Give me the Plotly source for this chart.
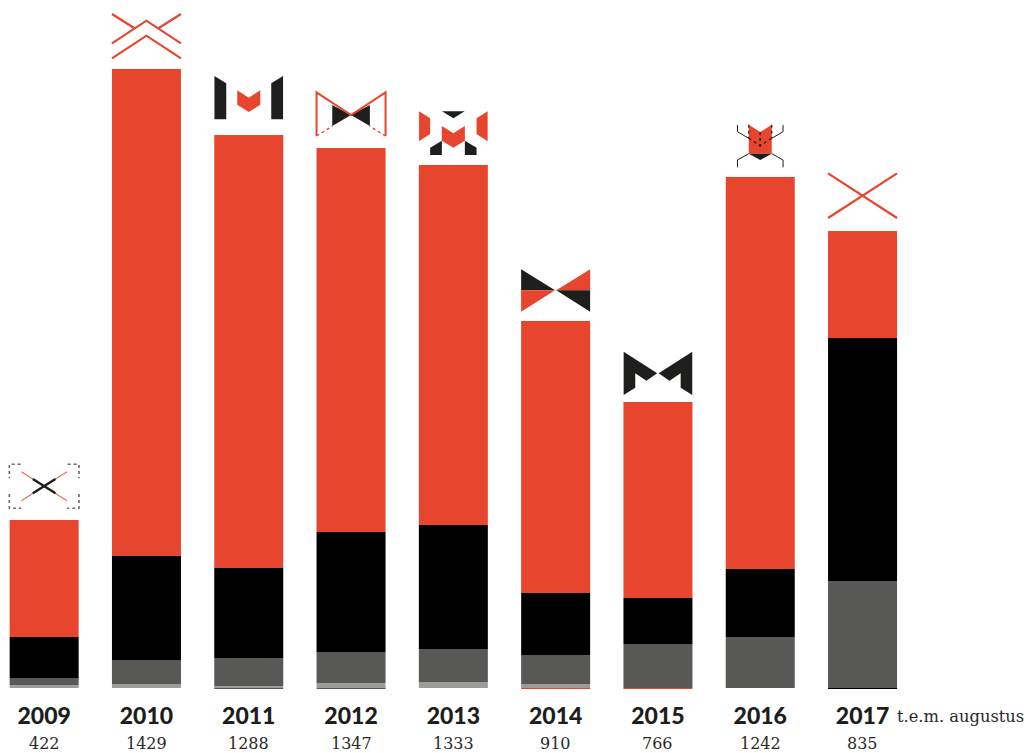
import plotly.graph_objects as go

years = ["2009", "2010", "2011", "2012", "2013", "2014", "2015", "2016", "2017"]
totals = ["422", "1429", "1288", "1347", "1333", "910", "766", "1242", "835"]
# stacked segment heights, bottom to top
# (the hairlines under some bars hang just below the baseline)
thin_dark = [0, 0, -0.8, -0.8, 0, 0, 0, 0, 0]
thin_red = [0, 0, 0, 0, 0, -1, -1, 0, 0]
thin_black = [0, 0, 0, 0, 0, 0, 0, 0, -1]
light_grey = [3, 4, 2, 5, 6, 4, 0, 0, 0]
dark_grey = [7, 24, 28, 31, 33, 29, 44, 51, 107]
black = [41, 104, 90, 120, 124, 62, 46, 68, 243]
red = [117, 487, 433, 384, 360, 272, 196, 392, 107]

RED, BLACK, DG, LG, INK = "#E7452E", "#000000", "#585856", "#9C9C9B", "#1E1E1C"
PITCH = 102.3
BAR_W = 69
X0 = 44.15
BASE = 64

fig = go.Figure()
xs = list(range(len(years)))
for name, vals, col in [("thin_dark", thin_dark, DG), ("thin_red", thin_red, RED),
                        ("thin_black", thin_black, BLACK), ("light", light_grey, LG),
                        ("dark", dark_grey, DG), ("black", black, BLACK), ("red", red, RED)]:
    fig.add_trace(go.Bar(x=xs, y=vals, name=name, width=BAR_W / PITCH,
                         marker=dict(color=col, line=dict(width=0)), hoverinfo="skip"))

tops = [sum(v) for v in zip(light_grey, dark_grey, black, red)]
shapes = []


def path(i, pts, fill=None, line=None, width=0, dash=None, close=True):
    d = ""
    for k, (dx, h) in enumerate(pts):
        d += ("M" if k == 0 else "L") + f"{i + dx / PITCH:.5f},{tops[i] + h:.3f} "
    if close:
        d += "Z"
    s = dict(type="path", path=d, xref="x", yref="y", layer="above",
             line=dict(width=width, color=line or "rgba(0,0,0,0)"))
    if dash:
        s["line"]["dash"] = dash
    s["fillcolor"] = fill if fill else "rgba(0,0,0,0)"
    shapes.append(s)


def stroke(i, pts, col, width, dash=None):
    path(i, pts, None, col, width, dash, close=False)


def mirror(pts):
    return [(-dx, h) for dx, h in pts]


# 2009
for sgn in (-1, 1):
    stroke(0, [(sgn * 23.5, 55.7), (sgn * 34.8, 55.7), (sgn * 34.8, 41.7)], "#6A6A68", 1.6, "dot")
    stroke(0, [(sgn * 34.8, 26), (sgn * 34.8, 11.7), (sgn * 23, 11.7)], "#6A6A68", 1.6, "dot")
stroke(0, [(-22.8, 48.3), (22.8, 19.3)], "#EE6A58", 1.2)
stroke(0, [(22.8, 48.3), (-22.8, 19.3)], "#EE6A58", 1.2)
stroke(0, [(-11.3, 41), (11.3, 26.7)], INK, 2.4)
stroke(0, [(11.3, 41), (-11.3, 26.7)], INK, 2.4)
# 2010
stroke(1, [(-34.5, 25.7), (0, 48.3), (34.5, 25.7)], RED, 2.2)
stroke(1, [(-34.5, 10.7), (0, 33.3), (34.5, 10.7)], RED, 2.2)
stroke(1, [(-34.5, 55), (-12, 40.7)], RED, 2.2)
stroke(1, [(34.5, 55), (12, 40.7)], RED, 2.2)
# 2011
left = [(-34.3, 59), (-22.5, 51.7), (-22.5, 15.7), (-34.3, 15.7)]
path(2, left, INK)
path(2, mirror(left), INK)
path(2, [(-11.5, 44.7), (0, 37.3), (11.5, 44.7), (11.5, 30.3), (0, 23), (-11.5, 30.3)], RED)
# 2012
left = [(-18.8, 43), (0, 33), (-18.8, 22)]
path(3, left, INK)
path(3, mirror(left), INK)
stroke(3, [(-34.5, 12), (-34.5, 55.7), (0, 33), (34.5, 55.7), (34.5, 12)], RED, 2)
stroke(3, [(-34.5, 12), (-18.5, 22)], RED, 1.4, "dot")
stroke(3, [(34.5, 12), (18.5, 22)], RED, 1.4, "dot")
# 2013
left = [(-34.3, 53.7), (-23.2, 46.7), (-23.2, 31), (-34.3, 23.7)]
path(4, left, RED)
path(4, mirror(left), RED)
path(4, [(-11.4, 53.7), (11.4, 53.7), (0, 46.7)], INK)
path(4, [(-11.5, 39), (0, 31.7), (11.5, 39), (11.5, 24.3), (0, 17.3), (-11.5, 24.3)], RED)
left = [(-23.2, 17.3), (-11.5, 24.3), (-11.5, 10), (-23.2, 10)]
path(4, left, INK)
path(4, mirror(left), INK)
# 2014
path(5, [(-34.5, 51.7), (-0.6, 30.7), (-34.5, 30.7)], INK)
path(5, [(-34.5, 30.7), (-0.6, 30.7), (-34.5, 9.3)], RED)
path(5, [(34.5, 51.7), (0.6, 30.7), (34.5, 30.7)], RED)
path(5, [(34.5, 30.7), (0.6, 30.7), (34.5, 9.3)], INK)
# 2015
left = [(-34.3, 50.3), (-0.7, 28.7), (-11.5, 21.3), (-22.7, 28.7), (-22.7, 14.3), (-34.3, 7)]
path(6, left, INK)
path(6, mirror(left), INK)
# 2016
path(7, [(-11.5, 52.3), (0, 45), (11.5, 52.3), (11.5, 23.3), (-11.5, 23.3)], RED)
path(7, [(-11.5, 23.3), (11.5, 23.3), (0, 17)], INK)
for sgn in (-1, 1):
    stroke(7, [(sgn * 11.5, 38.7), (sgn * 22.8, 45.3), (sgn * 22.8, 52)], INK, 1)
    stroke(7, [(sgn * 11.5, 23.3), (sgn * 22.8, 17), (sgn * 22.8, 9.7)], INK, 1)
    stroke(7, [(sgn * 11.5, 52.3), (sgn * 11.5, 38.7)], INK, 1.2, "dot")
stroke(7, [(-11.5, 38.7), (0, 31.3), (11.5, 38.7)], INK, 1.2, "dot")
stroke(7, [(0, 45), (0, 30.3)], INK, 1.6, "dot")
# 2017
stroke(8, [(-34.5, 57.7), (34.5, 13)], RED, 2.2)
stroke(8, [(34.5, 57.7), (-34.5, 13)], RED, 2.2)

annotations = [dict(x=i, y=0, xref="x", yref="y", text=t, showarrow=False, xanchor="center",
                    yanchor="middle", yshift=-55,
                    font=dict(family="DejaVu Serif", size=16, color="#2a2a28"))
               for i, t in enumerate(totals)]
annotations.append(dict(x=8, y=0, xref="x", yref="y", text="t.e.m. augustus", showarrow=False,
                        xanchor="left", yanchor="middle", xshift=32.5, yshift=-28,
                        font=dict(family="DejaVu Serif", size=16.3, color="#2a2a28")))

fig.update_layout(
    width=1029, height=753, barmode="relative", showlegend=False,
    margin=dict(l=0, r=0, t=0, b=BASE, pad=0),
    paper_bgcolor="white", plot_bgcolor="white",
    xaxis=dict(range=[-X0 / PITCH, (1029 - X0) / PITCH], tickmode="array", tickvals=xs,
               ticktext=years,
               showgrid=False, zeroline=False, showline=False, ticks="",
               tickfont=dict(family="Lato", size=23, color="#1d1d1b", weight=900), ticklabelstandoff=11),
    yaxis=dict(range=[-1, 688], visible=False, showgrid=False, zeroline=False),
    shapes=shapes, annotations=annotations,
)
fig.write_html("out.html", config={"displayModeBar": False},
               post_script="document.body.style.margin='0';document.documentElement.style.overflow='hidden';")
